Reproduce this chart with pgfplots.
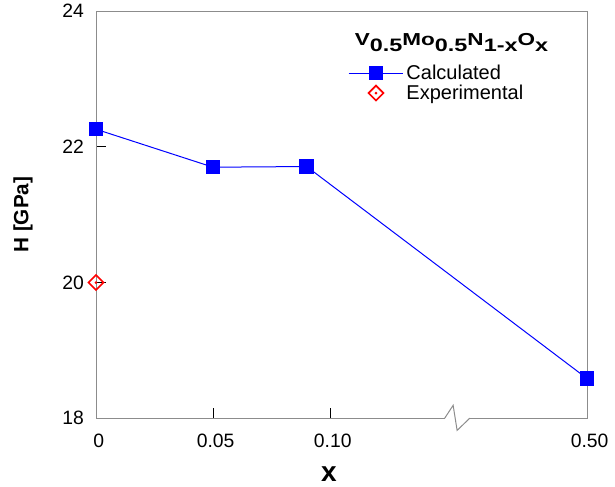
\documentclass[border=0pt]{standalone}
\usepackage{fontspec}
\setmainfont{Liberation Sans}
\usepackage{graphicx}
\usepackage{pgfplots}
\pgfplotsset{compat=1.18}

% red diamond with a dot in the middle
\pgfdeclareplotmark{dotdiamond}{%
  \pgfpathmoveto{\pgfqpoint{0pt}{\pgfplotmarksize}}%
  \pgfpathlineto{\pgfqpoint{\pgfplotmarksize}{0pt}}%
  \pgfpathlineto{\pgfqpoint{0pt}{-\pgfplotmarksize}}%
  \pgfpathlineto{\pgfqpoint{-\pgfplotmarksize}{0pt}}%
  \pgfpathclose
  \pgfusepathqstroke
  \pgfpathcircle{\pgfpointorigin}{0.2\pgfplotmarksize}%
  \pgfusepathqfill}

\newcommand\sub[1]{\raisebox{-4.5pt}{\fontsize{13.5}{13}\selectfont #1}}

\begin{document}
\begin{tikzpicture}
\begin{axis}[
    scale only axis,
    width=368.25pt, height=305.25pt,
    xmin=0, xmax=0.2098,
    ymin=18, ymax=24,
    xtick={0,0.05,0.1,0.2098},
    xticklabels={0,0.05,0.10,0.50},
    ytick={18,20,22,24},
    /pgf/number format/assume math mode=true,
    tick pos=left,
    tick align=inside,
    major tick length=7.5pt,
    tick style={black, line width=0.75pt},
    axis line style={black!45, line width=0.75pt},
    ticklabel style={font=\fontsize{14.5}{17}\selectfont},
    yticklabel style={xshift=-5.5pt},
    xticklabel style={yshift=-8pt, xshift=2pt},
    xlabel={x},
    ylabel={H [GPa]},
    xlabel style={font=\bfseries\fontsize{21}{22}\selectfont, at={(axis description cs:0.4745,-0.156)}, anchor=base},
    ylabel style={font=\bfseries\fontsize{15.5}{17}\selectfont, at={(axis description cs:-0.1487,0.5)}, anchor=center},
    clip=false,
    legend style={at={(rel axis cs:0.513,0.875)}, anchor=north west, draw=none, fill=none,
        inner sep=0pt, font=\fontsize{15}{17}\selectfont, row sep=-1.5pt, nodes={inner sep=2pt}},
    legend cell align=left,
    legend image code/.code={\draw[mark repeat=2,mark phase=2,#1] plot coordinates {(0pt,0pt)(20.5pt,0pt)(41pt,0pt)};},
]
\addplot[blue, line width=0.75pt, mark=square*, mark size=5pt, mark options={solid}]
    coordinates {(0,22.26)(0.05,21.70)(0.09,21.71)(0.2098,18.585)};
\addlegendentry{Calculated}
\addplot[red, only marks, mark=dotdiamond, mark size=5.6pt, line width=1.25pt]
    coordinates {(0,20)};
\addlegendentry{Experimental}

% axis break on the x axis
\fill[white] (axis cs:0.1490,17.965) rectangle (axis cs:0.1597,18.035);
\draw[black!45, line width=0.75pt] (axis cs:0.1490,18) -- (axis cs:0.1526,18.19)
    -- (axis cs:0.1543,17.82) -- (axis cs:0.1597,18);

\node[anchor=base, font=\bfseries] at (rel axis cs:0.724,0.9165)
    {\scalebox{1.3}[1]{\fontsize{13}{13}\selectfont V\sub{0.5}Mo\sub{0.5}N\sub{1-x}O\sub{x}}};

\coordinate (SW) at (rel axis cs:0,0);
\coordinate (NE) at (rel axis cs:1,1);
\end{axis}
\path ([shift={(-72pt,-49.5pt)}]SW) rectangle ([shift={(21pt,8.25pt)}]NE);
\end{tikzpicture}
\end{document}
